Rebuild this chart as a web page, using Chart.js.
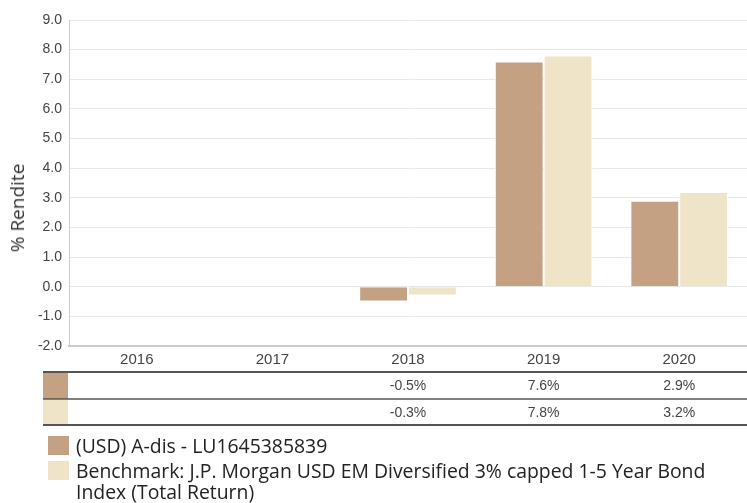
<!DOCTYPE html>
<html>
<head>
<meta charset="utf-8">
<script src="https://cdn.jsdelivr.net/npm/chart.js@4/dist/chart.umd.min.js"></script>
<style>
  body { margin: 0; background: #fff; }
  #wrap { position: relative; width: 747px; height: 503px; overflow: hidden; }
  #chart { position: absolute; left: 0; top: 0; }
  #ytitle { position: absolute; left: 17px; top: 208px; transform: translate(-50%, -50%) rotate(-90deg);
    white-space: nowrap; font-family: "Open Sans", sans-serif; font-size: 19px; color: #333; }
  #legend { position: absolute; left: 48px; top: 435px; width: 690px;
    font-family: "Open Sans", sans-serif; font-size: 19.4px; color: #222; line-height: 21px; }
  .item { display: flex; align-items: flex-start; margin-bottom: 4px; }
  .sw { flex: none; width: 21px; height: 19px; margin-right: 7px; margin-top: 1px; }
</style>
</head>
<body>
<div id="wrap">
  <canvas id="chart" width="747" height="503"></canvas>
  <div id="ytitle">% Rendite</div>
  <div id="legend"></div>
</div>
<script>
var years = ["2016", "2017", "2018", "2019", "2020"];
var fundValues = [null, null, -0.5, 7.6, 2.9];
var benchValues = [null, null, -0.3, 7.8, 3.2];
var fundLabel = "(USD) A-dis - LU1645385839";
var benchLabel = "Benchmark: J.P. Morgan USD EM Diversified 3% capped 1-5 Year Bond Index (Total Return)";
var fundColor = "#c4a183";
var benchColor = "#efe3c8";

// table under the x axis
var tablePlugin = {
  id: 'table',
  afterDraw: function (chart) {
    var ctx = chart.ctx;
    var x = chart.scales.x;
    var rows = [fundValues, benchValues];
    var colors = [fundColor, benchColor];
    var lines = [372, 399, 425];
    ctx.save();
    for (var r = 0; r < rows.length; r++) {
      ctx.fillStyle = colors[r];
      ctx.fillRect(43, lines[r] + 1, 25, lines[r + 1] - lines[r] - 1);
      ctx.fillStyle = '#444';
      ctx.font = '14px "Liberation Sans", Arial, sans-serif';
      ctx.textAlign = 'center';
      ctx.textBaseline = 'middle';
      for (var i = 0; i < years.length; i++) {
        if (rows[r][i] === null) continue;
        ctx.fillText(rows[r][i].toFixed(1) + '%', x.getPixelForValue(i), (lines[r] + lines[r + 1]) / 2 + 1);
      }
    }
    ctx.strokeStyle = '#555';
    for (var k = 0; k < lines.length; k++) {
      ctx.lineWidth = k === 1 ? 1.5 : 2;
      ctx.beginPath();
      ctx.moveTo(43, lines[k]);
      ctx.lineTo(747, lines[k]);
      ctx.stroke();
    }
    ctx.restore();
  }
};

var ctx = document.getElementById("chart").getContext('2d');
var myChart = new Chart(ctx, {
  type: 'bar',
  data: {
    labels: years,
    datasets: [{
        label: fundLabel,
        data: fundValues,
        backgroundColor: fundColor,
        borderColor: '#fff',
        borderWidth: 1
      },
      {
        label: benchLabel,
        data: benchValues,
        backgroundColor: benchColor,
        borderColor: '#fff',
        borderWidth: 1
      }
    ]
  },
  options: {
    responsive: false,
    animation: false,
    categoryPercentage: 0.72,
    barPercentage: 1,
    layout: { padding: { top: 20, right: 0, left: 0, bottom: 0 } },
    plugins: {
      legend: { display: false },
      tooltip: { enabled: false }
    },
    scales: {
      x: {
        grid: { display: false },
        border: { display: true, color: '#ccc', width: 2 },
        ticks: { color: '#444', font: { family: '"Liberation Sans", Arial', size: 15 }, padding: -3 },
        afterFit: function (scale) { scale.height = 157; }
      },
      y: {
        min: -2,
        max: 9,
        ticks: {
          stepSize: 1,
          color: '#444',
          font: { family: '"Liberation Sans", Arial', size: 14 },
          padding: 7,
          callback: function (v) { return v.toFixed(1); }
        },
        grid: { color: '#e8e8e8', drawTicks: false },
        border: { display: true, color: '#ccc', width: 1 },
        afterFit: function (scale) { scale.width = 69; }
      }
    }
  },
  plugins: [tablePlugin]
});

var legend = document.getElementById('legend');
myChart.data.datasets.forEach(function (ds) {
  var item = document.createElement('div');
  item.className = 'item';
  var sw = document.createElement('span');
  sw.className = 'sw';
  sw.style.background = ds.backgroundColor;
  var txt = document.createElement('span');
  txt.textContent = ds.label;
  item.appendChild(sw);
  item.appendChild(txt);
  legend.appendChild(item);
});
</script>
</body>
</html>
